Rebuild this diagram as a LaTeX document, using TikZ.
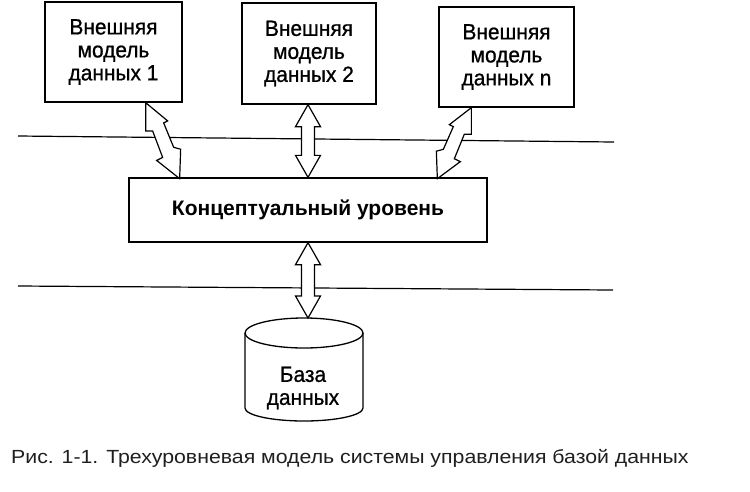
\documentclass[tikz,border=0pt]{standalone}
\usepackage{fontspec}
\newfontfamily\figfont[FakeStretch=0.95, FakeBold=0.8]{Liberation Sans}
\newfontfamily\plainfont{Liberation Sans}
\newfontfamily\capfont[FakeStretch=1.12]{Liberation Sans}
\usetikzlibrary{calc}
\begin{document}
\begin{tikzpicture}[x=1pt,y=-1pt,
  modelbox/.style={draw, line width=1.3pt, fill=white, align=center, inner sep=0pt,
    font=\figfont\fontsize{22}{23}\selectfont},
  levelbox/.style={draw, line width=1.3pt, fill=white, align=center, inner sep=0pt,
    font=\plainfont\bfseries\fontsize{21}{23}\selectfont},
  blockarrow/.style={draw, line width=1.2pt, fill=white, line join=miter},
  levelline/.style={line width=1.2pt},
  zarrow/.pic={\draw[blockarrow] (0,0) -- (22,18) -- (18,20) -- (28,44) -- (35,46) -- (34,75)
     -- (11,57) -- (17,54) -- (7,28) -- (0,28) -- cycle;}]
\fill[white] (0,0) rectangle (750,491);
\useasboundingbox (0,0) rectangle (750,491);

% level separator lines
\draw[levelline] (18,136) -- (614,142);
\draw[levelline] (18,286) -- (613,290);

% external models
\node[modelbox, minimum width=137pt, minimum height=100pt] (e1) at (113.5,52) {Внешняя\\модель\\данных 1};
\node[modelbox, minimum width=134pt, minimum height=101pt] (e2) at (309,53.5) {Внешняя\\модель\\данных 2};
\node[modelbox, minimum width=135pt, minimum height=100pt] (en) at (506.5,57) {Внешняя\\модель\\данных n};

% conceptual level
\node[levelbox, minimum width=358pt, minimum height=64pt] (conc) at (308,210) {Концептуальный уровень};

% database cylinder
\coordinate (dbtop) at (304,318);
\draw[line width=1.3pt, fill=white] (245,333) -- (245,408)
   arc[start angle=180, end angle=0, x radius=59, y radius=13] -- (363,333);
\draw[line width=1.3pt, fill=white] (304,333) ellipse [x radius=59, y radius=15];
\node[font=\figfont\fontsize{22}{23}\selectfont, align=center, inner sep=0pt] (db) at (303,388) {База\\данных};

% arrows
\coordinate (a1) at ($(e1.south east)+(-37,0)$);
\coordinate (an) at ($(en.south west)+(33,0)$);
\pic[yscale=76/75] at (a1) {zarrow};
\pic[xscale=-1, yscale=71/75] at (an) {zarrow};

\draw[blockarrow] (conc.north |- e2.south) -- ++(12.5,22) -- ++(-6,0)
   -- ($(conc.north)+(6.5,-22)$) -- ++(6,0) -- (conc.north) -- ++(-12.5,-22) -- ++(6,0)
   -- ($(conc.north |- e2.south)+(-6.5,22)$) -- ++(-6,0) -- cycle;

\draw[blockarrow] (conc.south) -- ++(12.5,22) -- ++(-6,0)
   -- ($(conc.south |- dbtop)+(6.5,-22)$) -- ++(6,0) -- (conc.south |- dbtop) -- ++(-12.5,-22) -- ++(6,0)
   -- ($(conc.south)+(-6.5,22)$) -- ++(-6,0) -- cycle;

% caption
\node[anchor=base west, inner sep=0pt, text=black!88, font=\capfont\fontsize{19}{22}\selectfont] (cap) at (11,463)
  {Рис. 1-1. Трехуровневая модель системы управления базой данных};
\end{tikzpicture}
\end{document}
